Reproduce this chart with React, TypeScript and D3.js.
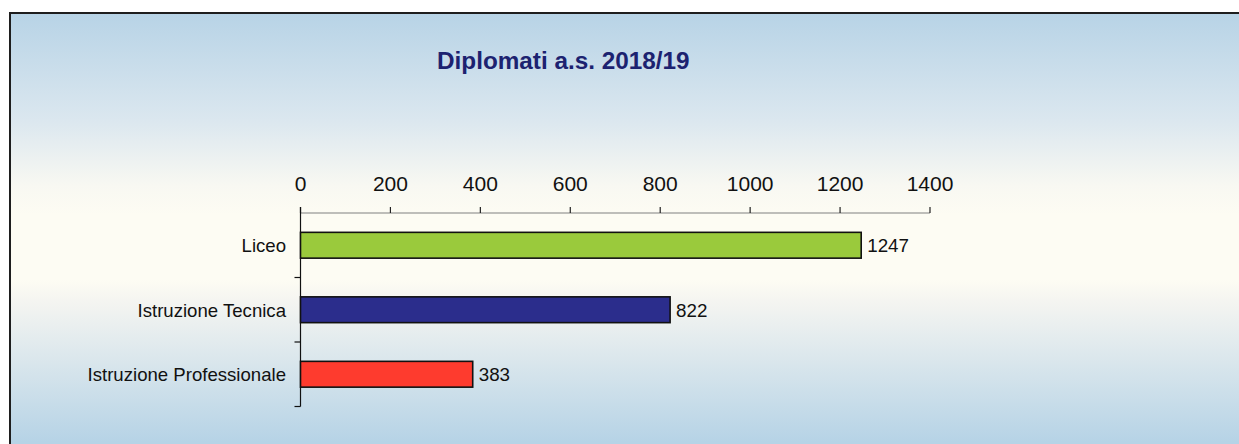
import React from "react";
import * as d3 from "d3";

const categories = ["Liceo", "Istruzione Tecnica", "Istruzione Professionale"];
const values = [1247, 822, 383];
const barColors = ["#9aca3c", "#2b2d8c", "#fe3b2e"];
const xTicks = [0, 200, 400, 600, 800, 1000, 1200, 1400];
const title = "Diplomati a.s. 2018/19";

const W = 1239;
const H = 444;

export default function App() {
  const x = d3.scaleLinear().domain([0, 1400]).range([300.5, 930]);
  const y = d3
    .scaleBand<string>()
    .domain(categories)
    .range([213, 406.5])
    .paddingInner(0.6)
    .paddingOuter(0.3);
  const step = y.step();
  const y0 = 213;
  const font = "'Liberation Sans', Arial, Helvetica, sans-serif";

  return (
    <svg
      width={W}
      height={H}
      style={{ position: "absolute", left: 0, top: 0 }}
      fontFamily={font}
    >
      <defs>
        <linearGradient id="bg" gradientUnits="userSpaceOnUse" x1="0" y1="12" x2="0" y2="442">
          <stop offset={0} stopColor="#b7d3e6" />
          <stop offset={(120 - 12) / 430} stopColor="#dbe7ef" />
          <stop offset={(185 - 12) / 430} stopColor="#f8f8f2" />
          <stop offset={(215 - 12) / 430} stopColor="#fdfcf3" />
          <stop offset={(280 - 12) / 430} stopColor="#fdfcf3" />
          <stop offset={(300 - 12) / 430} stopColor="#f5f5f1" />
          <stop offset={1} stopColor="#b6d3e6" />
        </linearGradient>
      </defs>
      <rect x={0} y={0} width={W} height={H} fill="#ffffff" />
      <rect x={10} y={13} width={1300} height={500} fill="url(#bg)" stroke="#1e1e1e" strokeWidth={2} />

      <text x={437} y={69} fontSize={24.3} fontWeight="bold" fill="#1c2270">
        {title}
      </text>

      {/* top axis */}
      <line x1={x(0)} x2={x(1400)} y1={y0} y2={y0} stroke="#808080" strokeWidth={1.2} />
      {xTicks.map((t) => (
        <g key={t}>
          <line x1={x(t)} x2={x(t)} y1={y0 - 6} y2={y0} stroke="#222" strokeWidth={1.2} />
          <text x={x(t)} y={191} fontSize={21} textAnchor="middle" fill="#111">
            {t}
          </text>
        </g>
      ))}

      {/* left axis */}
      <line x1={x(0)} x2={x(0)} y1={y0 - 6} y2={y0 + step * categories.length} stroke="#111" strokeWidth={1.2} />
      {categories.map((c, i) => (
        <line
          key={"t" + c}
          x1={x(0) - 6}
          x2={x(0)}
          y1={y0 + step * (i + 1)}
          y2={y0 + step * (i + 1)}
          stroke="#111"
          strokeWidth={1.2}
        />
      ))}

      {categories.map((c, i) => {
        const by = y(c)!;
        const bh = y.bandwidth();
        const cy = by + bh / 2;
        return (
          <g key={c}>
            <rect
              x={x(0)}
              y={by}
              width={x(values[i]) - x(0)}
              height={bh}
              fill={barColors[i]}
              stroke="#111"
              strokeWidth={1.6}
            />
            <text x={286} y={cy + 7} fontSize={18.6} textAnchor="end" fill="#111">
              {c}
            </text>
            <text x={x(values[i]) + 6} y={cy + 7} fontSize={18.8} fill="#111">
              {values[i]}
            </text>
          </g>
        );
      })}
    </svg>
  );
}
